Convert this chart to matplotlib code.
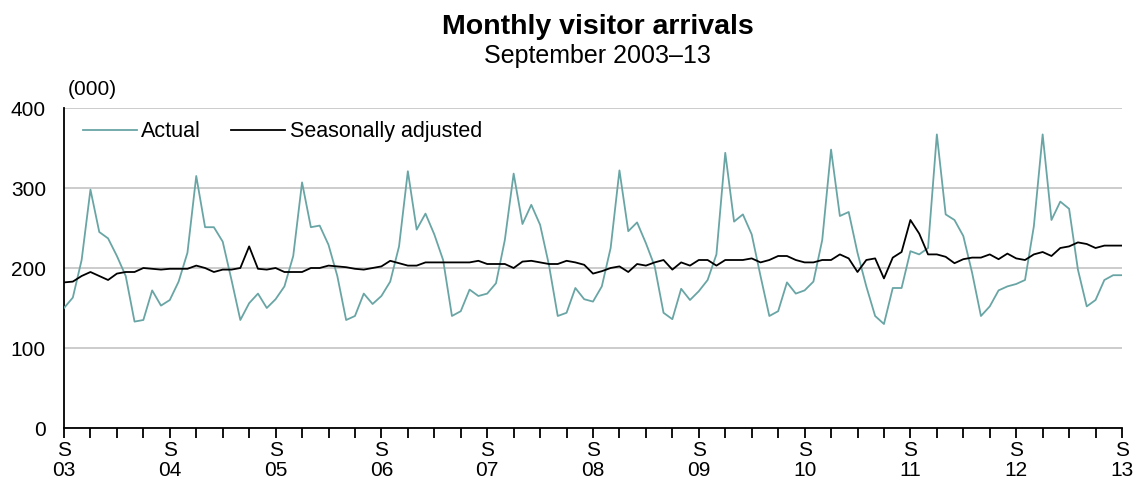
import numpy as np
import matplotlib
matplotlib.use("Agg")
import matplotlib.pyplot as plt

plt.rcParams['font.family'] = ['Liberation Sans', 'DejaVu Sans']

# Monthly series, September 2003 .. September 2013 (thousands)
actual = [
    150, 163, 210, 298, 245, 237, 215, 190, 133, 135, 172, 153,   # Sep03-Aug04
    160, 183, 219, 315, 251, 251, 233, 185, 135, 156, 168, 150,   # Sep04-Aug05
    161, 177, 215, 307, 251, 253, 229, 190, 135, 140, 168, 155,   # Sep05-Aug06
    165, 183, 227, 321, 248, 268, 242, 210, 140, 146, 173, 165,   # Sep06-Aug07
    168, 181, 235, 318, 255, 279, 254, 204, 140, 144, 175, 161,   # Sep07-Aug08
    158, 177, 225, 322, 246, 257, 231, 202, 144, 136, 174, 160,   # Sep08-Aug09
    171, 185, 217, 344, 258, 267, 242, 190, 140, 146, 182, 168,   # Sep09-Aug10
    172, 183, 235, 348, 265, 270, 219, 177, 140, 130, 175, 175,   # Sep10-Aug11
    221, 217, 225, 367, 267, 260, 240, 194, 140, 152, 172, 177,   # Sep11-Aug12
    180, 185, 252, 367, 260, 283, 274, 198, 152, 160, 185, 191,   # Sep12-Aug13
    191,                                                          # Sep13
]
seasonally_adjusted = [
    182, 183, 190, 195, 190, 185, 193, 195, 195, 200, 199, 198,
    199, 199, 199, 203, 200, 195, 198, 198, 200, 227, 199, 198,
    200, 195, 195, 195, 200, 200, 203, 202, 201, 199, 198, 200,
    202, 209, 206, 203, 203, 207, 207, 207, 207, 207, 207, 209,
    205, 205, 205, 200, 208, 209, 207, 205, 205, 209, 207, 204,
    193, 196, 200, 202, 195, 205, 203, 207, 210, 198, 207, 203,
    210, 210, 203, 210, 210, 210, 212, 207, 210, 215, 215, 210,
    207, 207, 210, 210, 217, 212, 195, 210, 212, 187, 213, 220,
    260, 243, 217, 217, 214, 206, 211, 213, 213, 217, 211, 218,
    212, 210, 217, 220, 215, 225, 227, 232, 230, 225, 228, 228,
    228,
]
year_labels = ['03', '04', '05', '06', '07', '08', '09', '10', '11', '12', '13']
y_ticks = [0, 100, 200, 300, 400]

actual_color = '#6aa5a5'
sa_color = '#000000'
grid_color = '#c8c8c8'

fig = plt.figure(figsize=(11.38, 4.88), dpi=100)
ax = fig.add_axes([64/1138, 60/488, (1122-64)/1138, 320/488])

x = np.arange(len(actual))
ax.plot(x, actual, color=actual_color, lw=1.3, label='Actual', zorder=3)
ax.plot(x, seasonally_adjusted, color=sa_color, lw=1.3, label='Seasonally adjusted', zorder=4)

ax.set_xlim(0, len(actual) - 1)
ax.set_ylim(0, 400)
ax.set_yticks(y_ticks)
ax.set_yticklabels([str(v) for v in y_ticks], fontsize=15)
ax.yaxis.grid(True, color=grid_color, lw=1.3)
ax.set_axisbelow(True)
ax.tick_params(axis='y', length=0, pad=13)

major = np.arange(0, len(actual), 3)
ax.set_xticks(major)
labels = []
for m in major:
    if m % 12 == 0:
        labels.append('S\n' + year_labels[m // 12])
    else:
        labels.append('')
ax.set_xticklabels(labels, fontsize=15, linespacing=1.1)
ax.tick_params(axis='x', length=7, width=1.3, direction='out', pad=2, color='black')

for s in ['top', 'right']:
    ax.spines[s].set_visible(False)
ax.spines['left'].set_linewidth(1.3)
ax.spines['bottom'].set_linewidth(1.3)

leg = ax.legend(loc='upper left', ncol=2, frameon=False, fontsize=15.5,
                handlelength=2.5, handletextpad=0.2, columnspacing=1.4,
                bbox_to_anchor=(0.004, 1.005), borderaxespad=0.3)

fig.text(0.525, 0.945, 'Monthly visitor arrivals', ha='center', va='center',
         fontsize=20.5, fontweight='bold')
fig.text(0.525, 0.885, 'September 2003\u201313', ha='center', va='center', fontsize=18)
fig.text(68/1138, 0.816, '(000)', ha='left', va='center', fontsize=15)

fig.savefig('out.png', dpi=100)
